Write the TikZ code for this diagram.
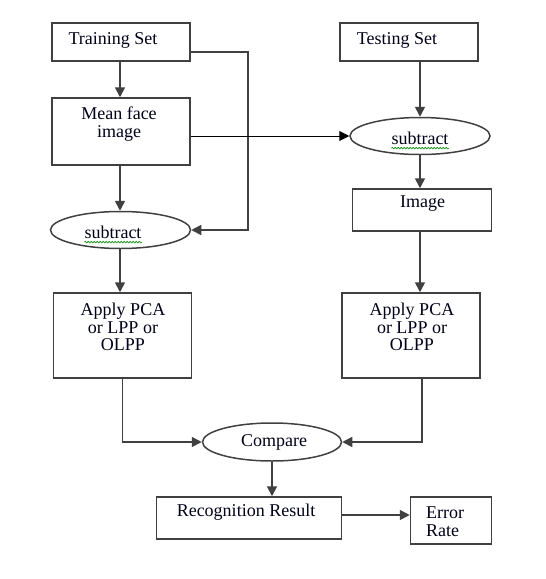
\documentclass[tikz,border=0pt]{standalone}
\usepackage{fontspec}
\setmainfont{Liberation Serif}
\usetikzlibrary{shapes.geometric,arrows.meta,decorations.pathmorphing}
\begin{document}
\begin{tikzpicture}[x=1pt,y=-1pt,
  box/.style={draw=black!75,line width=1.5pt,fill=white,rectangle,inner sep=0pt},
  oval/.style={draw=black!75,line width=1.5pt,fill=white,ellipse,inner sep=0pt,minimum width=140pt,minimum height=37pt},
  txt/.style={inner sep=0pt,align=center,text=black!90!blue,font=\fontsize{18}{17.7}\selectfont},
  conn/.style={draw=black!75,line width=1.6pt,-{Triangle[length=10pt,width=10pt]}},
  thin/.style={draw=black,line width=1pt,-{Triangle[length=10pt,width=10pt]}},
  squig/.style={draw=green!55!black,line width=0.6pt,decorate,decoration={snake,amplitude=0.8pt,segment length=3pt}}]
\useasboundingbox (0,0) rectangle (546,579);
% boxes
\node[box,minimum width=138pt,minimum height=38pt] (train) at (121,42) {};
\node[box,minimum width=138pt,minimum height=67pt] (mean) at (121,131.5) {};
\node[oval] (sub1) at (120.5,230) {};
\node[box,minimum width=138pt,minimum height=85pt] (apply1) at (122.5,335.5) {};
\node[box,minimum width=138pt,minimum height=38pt] (test) at (409,42) {};
\node[oval] (sub2) at (420,136) {};
\node[box,minimum width=139pt,minimum height=42pt] (img) at (422,210) {};
\node[box,minimum width=138pt,minimum height=85pt] (apply2) at (411,335.5) {};
\node[oval,minimum width=139pt,minimum height=38pt] (cmp) at (272,442) {};
\node[box,minimum width=185pt,minimum height=42pt] (rec) at (249,518) {};
\node[box,minimum width=81pt,minimum height=47pt] (err) at (451,520.5) {};
% texts
\node[txt] (ttrain) at (113,40) {Training Set};
\node[txt] (tmean) at (119,124) {Mean face\\image};
\node[txt] (tsub1) at (113,232) {subtract};
\node[txt] (tapply1) at (123,327) {Apply PCA\\or LPP or\\OLPP};
\node[txt] (ttest) at (397,40) {Testing Set};
\node[txt] (tsub2) at (420,138) {subtract};
\node[txt] (timg) at (422.5,204) {Image};
\node[txt] (tapply2) at (412,327) {Apply PCA\\or LPP or\\OLPP};
\node[txt] (tcmp) at (274,442) {Compare};
\node[txt] (trec) at (246,512) {Recognition Result};
\node[txt,align=left,anchor=west] (terr) at (426,522) {Error\\Rate};
% spell-check underlines
\draw[squig] ([yshift=-4pt]tsub1.base west) -- ([yshift=-4pt]tsub1.base east);
\draw[squig] ([yshift=-4pt]tsub2.base west) -- ([yshift=-4pt]tsub2.base east);
% connectors
\draw[conn] (train.south -| 120,0) -- (mean.north -| 120,0);
\coordinate (c1) at (248,52);
\draw[conn] (train.east |- c1) -- (c1) -- (c1 |- sub1.east) -- (sub1.east);
\draw[conn] (mean.south -| 120,0) -- (sub1.north -| 120,0);
\draw[thin] (mean.east |- sub2.west) -- (sub2.west);
\draw[conn] (sub2.north |- test.south) -- (sub2.north);
\draw[conn] (sub2.south) -- (sub2.south |- img.north);
\draw[conn] (sub1.south -| 120,0) -- (apply1.north -| 120,0);
\draw[conn] (img.south -| 420,0) -- (apply2.north -| 420,0);
\coordinate (c2) at (122.5,442);
\coordinate (c3) at (422,442);
\draw[conn] (apply1.south -| c2) -- (c2) -- (cmp.west);
\draw[conn] (apply2.south -| c3) -- (c3) -- (cmp.east);
\draw[conn] (cmp.south) -- (cmp.south |- rec.north);
\coordinate (c4) at (0,515);
\draw[conn] (rec.east |- c4) -- (err.west |- c4);
\end{tikzpicture}
\end{document}
